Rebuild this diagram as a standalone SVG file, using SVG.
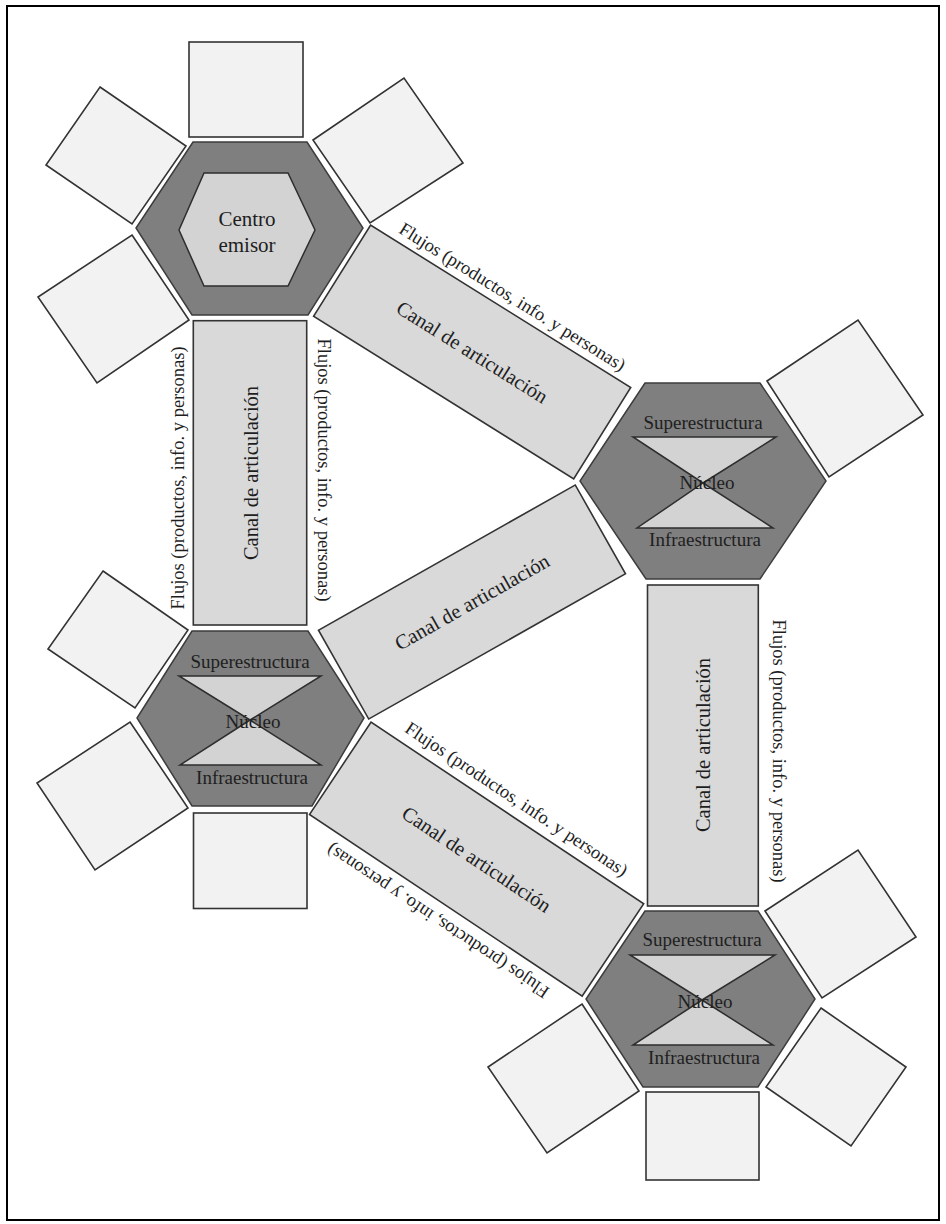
<svg xmlns="http://www.w3.org/2000/svg" width="946" height="1224" viewBox="0 0 946 1224">
<style>
.bg{fill:#ffffff}
.frame{fill:none;stroke:#000;stroke-width:2}
.hex{fill:#7f7f7f;stroke:#3c3c3c;stroke-width:1.5;stroke-linejoin:miter}
.inner{fill:#d3d3d3;stroke:#2e2e2e;stroke-width:1.5}
.sq{fill:#f2f2f2;stroke:#333;stroke-width:1.6}
.ch{fill:#d9d9d9;stroke:#333;stroke-width:1.6}
text{font-family:"Liberation Serif","Times New Roman",serif;fill:#1e1e1e;text-anchor:middle}
.h{font-size:19px}
.ce{font-size:21px}
.cn{font-size:20.5px}
.fl{font-size:18.5px}
</style>
<rect class="bg" x="0" y="0" width="946" height="1224"/>
<rect class="frame" x="7" y="6" width="932" height="1214"/>

<g id="connectors">
  <g id="canal-1" transform="translate(472.2,352) rotate(32)">
    <rect class="ch" x="-153.4" y="-53.8" width="306.7" height="107.6"/>
    <text class="cn" x="0" y="7">Canal de articulación</text>
    <text class="fl" x="5" y="-62">Flujos (productos, info. y personas)</text>
  </g>
  <g id="canal-2" transform="translate(472,602) rotate(-29.5)">
    <rect class="ch" x="-147.5" y="-51" width="295" height="102"/>
    <text class="cn" x="0" y="7">Canal de articulación</text>
  </g>
  <g id="canal-3" transform="translate(476.6,859.2) rotate(33.67)">
    <rect class="ch" x="-163.8" y="-55.5" width="327.6" height="111"/>
    <text class="cn" x="0" y="7">Canal de articulación</text>
    <text class="fl" x="0" y="-66">Flujos (productos, info. y personas)</text>
    <text class="fl" transform="translate(2,67) rotate(180)" x="0" y="0">Flujos (productos, info. y personas)</text>
  </g>
  <g id="canal-v1">
    <rect class="ch" x="193.3" y="320.7" width="113.4" height="304.3"/>
    <text class="cn" transform="translate(258,473) rotate(-90)">Canal de articulación</text>
    <text class="fl" transform="translate(184,478) rotate(-90)">Flujos (productos, info. y personas)</text>
    <text class="fl" transform="translate(318,470) rotate(90)">Flujos (productos, info. y personas)</text>
  </g>
  <g id="canal-v2">
    <rect class="ch" x="647.5" y="585" width="110.8" height="321"/>
    <text class="cn" transform="translate(710,745) rotate(-90)">Canal de articulación</text>
    <text class="fl" transform="translate(773,751) rotate(90)">Flujos (productos, info. y personas)</text>
  </g>
</g>

<g id="centro-emisor">
  <rect class="sq" x="189" y="42" width="114" height="95"/>
  <polygon class="sq" points="100,87 186,146 132,224 46,165"/>
  <polygon class="sq" points="132,235 189,320 97,383 38,297"/>
  <polygon class="sq" points="313,140 404,78 463,163 370,223"/>
  <polygon class="hex" points="193,142 307,142 363,228 308,315 192,315 136,228"/>
  <polygon class="inner" points="204,173 288,173 315,230 288,286 204,286 179,230"/>
  <text class="ce" x="247" y="226">Centro</text>
  <text class="ce" x="247" y="252">emisor</text>
</g>

<g id="nucleo-derecha">
  <polygon class="sq" points="767,381 858,320 923,415 829,477"/>
  <polygon class="hex" points="645,383 760,383 826,481 760,579 646,579 580,481"/>
  <polygon class="inner" points="633,437 776,437 703,483"/>
  <polygon class="inner" points="637,528 773,528 703,483"/>
  <text class="h" x="703" y="429">Superestructura</text>
  <text class="h" x="707" y="489">Núcleo</text>
  <text class="h" x="705" y="546">Infraestructura</text>
</g>

<g id="nucleo-izquierda">
  <polygon class="sq" points="103,571 188,630 135,708 48,649"/>
  <polygon class="sq" points="130,722 188,808 95,870 37,783"/>
  <rect class="sq" x="193.5" y="813" width="113.5" height="95.5"/>
  <polygon class="hex" points="192,631 308,631 364,718 312,806 192,806 137,718"/>
  <polygon class="inner" points="179,676 321,676 250,720"/>
  <polygon class="inner" points="180,765 321,765 250,720"/>
  <text class="h" x="250" y="668">Superestructura</text>
  <text class="h" x="253" y="728">Núcleo</text>
  <text class="h" x="252" y="784">Infraestructura</text>
</g>

<g id="nucleo-abajo">
  <polygon class="sq" points="765,911 858,850 916,937 822,998"/>
  <polygon class="sq" points="821,1008 906,1067 851,1146 766,1087"/>
  <polygon class="sq" points="582,1004 639,1091 547,1153 488,1067"/>
  <rect class="sq" x="646" y="1092" width="113" height="88"/>
  <polygon class="hex" points="645,911 758,911 815,999 758,1087 643,1087 586,999"/>
  <polygon class="inner" points="630,955 775,955 702,1000"/>
  <polygon class="inner" points="633,1045 773,1045 702,1000"/>
  <text class="h" x="702" y="946">Superestructura</text>
  <text class="h" x="705" y="1008">Núcleo</text>
  <text class="h" x="704" y="1064">Infraestructura</text>
</g>
</svg>
